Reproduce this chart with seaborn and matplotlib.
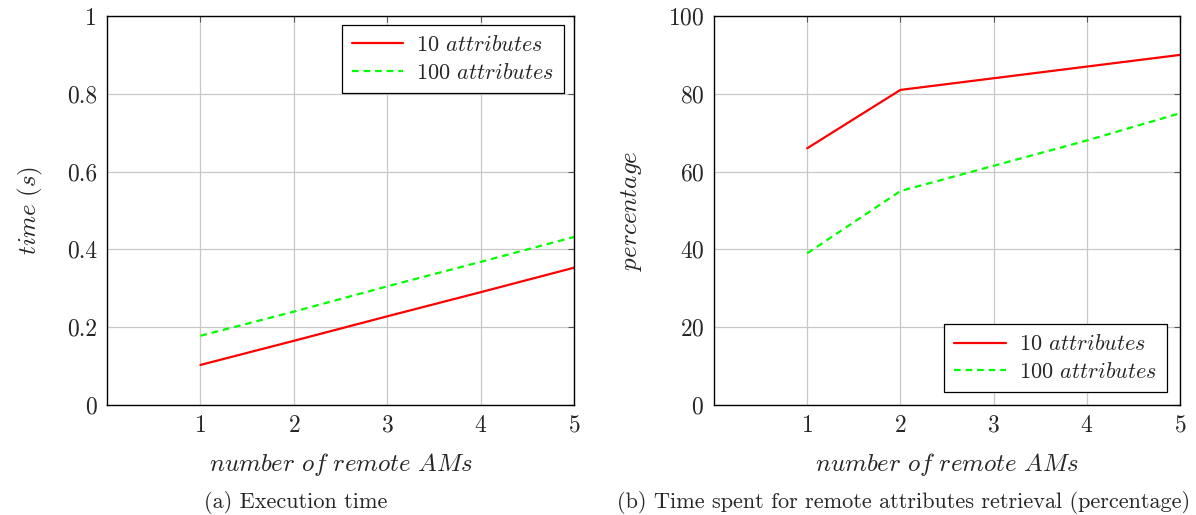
import numpy as np
import pandas as pd
import matplotlib
matplotlib.use("Agg")
import matplotlib.pyplot as plt
import seaborn as sns

# data
remote_ams = [1, 2, 3, 4, 5]
time_10 = [0.103, 0.165, 0.228, 0.290, 0.353]
time_100 = [0.178, 0.240, 0.305, 0.368, 0.432]
pct_10 = [66, 81, 84, 87, 90]
pct_100 = [39, 55, 61.5, 68, 75]
series_names = ["10 $attributes$", "100 $attributes$"]

sns.set_style("white")
plt.rcParams["font.family"] = ["cmr10", "DejaVu Serif"]
plt.rcParams["mathtext.fontset"] = "cm"
plt.rcParams["axes.formatter.use_mathtext"] = True

palette = {series_names[0]: "#ff0000", series_names[1]: "#00ff00"}
dashes = {series_names[0]: "", series_names[1]: (3, 2.2)}

df_time = pd.DataFrame({
    "ams": remote_ams * 2,
    "value": time_10 + time_100,
    "series": [series_names[0]] * 5 + [series_names[1]] * 5,
})
df_pct = pd.DataFrame({
    "ams": remote_ams * 2,
    "value": pct_10 + pct_100,
    "series": [series_names[0]] * 5 + [series_names[1]] * 5,
})

fig = plt.figure(figsize=(11.96, 5.15), dpi=100)
ax1 = fig.add_axes([0.0895, 0.2136, 0.3905, 0.7553])
ax2 = fig.add_axes([0.597, 0.2136, 0.3896, 0.7553])

sns.lineplot(data=df_time, x="ams", y="value", hue="series", style="series",
             palette=palette, dashes=dashes, linewidth=1.6, ax=ax1)
sns.lineplot(data=df_pct, x="ams", y="value", hue="series", style="series",
             palette=palette, dashes=dashes, linewidth=1.6, ax=ax2)

ax1.set_xlim(0, 5)
ax1.set_ylim(0, 1)
ax1.set_yticks([0, 0.2, 0.4, 0.6, 0.8, 1])
ax1.set_yticklabels(["0", "0.2", "0.4", "0.6", "0.8", "1"])
ax1.set_ylabel("$time\\ (s)$", fontsize=18, labelpad=16)

ax2.set_xlim(0, 5)
ax2.set_ylim(0, 100)
ax2.set_yticks([0, 20, 40, 60, 80, 100])
ax2.set_ylabel("$percentage$", fontsize=18, labelpad=17)

for ax in (ax1, ax2):
    ax.set_xticks([1, 2, 3, 4, 5])
    ax.set_xlabel("$number\\ of\\ remote\\ AMs$", fontsize=18, labelpad=10)
    ax.grid(True, color="#c8c8c8", linewidth=0.9)
    ax.tick_params(direction="in", length=4, width=0.8, labelsize=17,
                   top=True, right=True, color="#555555", pad=7)
    for s in ax.spines.values():
        s.set_color("black")
        s.set_linewidth(1.0)

leg_kw = dict(fontsize=16, frameon=True, fancybox=False, edgecolor="black",
              framealpha=1, handlelength=2.3, borderpad=0.45,
              labelspacing=0.35, handletextpad=0.6, borderaxespad=0)
leg1 = ax1.legend(loc="upper right", bbox_to_anchor=(0.979, 0.977), **leg_kw)
leg2 = ax2.legend(loc="lower right", bbox_to_anchor=(0.972, 0.033), **leg_kw)
for leg in (leg1, leg2):
    leg.get_frame().set_linewidth(0.9)

fig.text(296 / 1196, 0.0136, "(a) Execution time", ha="center",
         va="baseline", fontsize=16)
fig.text(904 / 1196, 0.0136,
         "(b) Time spent for remote attributes retrieval (percentage)",
         ha="center", va="baseline", fontsize=16)

fig.savefig("out.png", dpi=100)
